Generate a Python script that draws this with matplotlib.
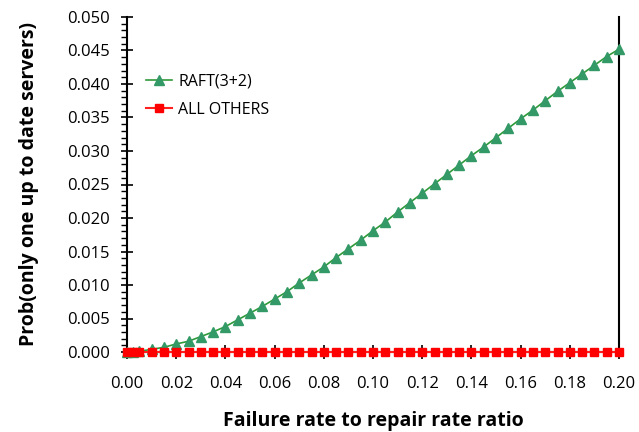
import matplotlib
matplotlib.use("Agg")
import matplotlib.pyplot as plt
from matplotlib.ticker import MultipleLocator, FormatStrFormatter

# Data
x_ratio = [0.0, 0.0025, 0.005, 0.01, 0.015, 0.02, 0.025, 0.03, 0.035, 0.04, 0.045,
           0.05, 0.055, 0.06, 0.065, 0.07, 0.075, 0.08, 0.085, 0.09, 0.095,
           0.10, 0.105, 0.11, 0.115, 0.12, 0.125, 0.13, 0.135, 0.14, 0.145,
           0.15, 0.155, 0.16, 0.165, 0.17, 0.175, 0.18, 0.185, 0.19, 0.195, 0.20]
raft_3_2 = [0.0, 0.00002, 0.0001, 0.0004, 0.0007, 0.0012, 0.0016, 0.0023, 0.0030, 0.0038, 0.0048,
            0.0058, 0.0068, 0.0079, 0.0090, 0.0103, 0.0115, 0.0127, 0.0141, 0.0154, 0.0167,
            0.0181, 0.0194, 0.0209, 0.0223, 0.0237, 0.0251, 0.0265, 0.0279, 0.0293, 0.0306,
            0.0320, 0.0334, 0.0348, 0.0361, 0.0375, 0.0389, 0.0402, 0.0415, 0.0428, 0.0441, 0.0452]
all_others = [0.0] * len(x_ratio)

series_labels = ["RAFT(3+2)", "ALL OTHERS"]
x_label = "Failure rate to repair rate ratio"
y_label = "Prob(only one up to date servers)"

plt.rcParams['font.family'] = ['Open Sans', 'DejaVu Sans']

fig = plt.figure(figsize=(6.39, 4.32), dpi=100)
ax = fig.add_axes([127/639, 1-352/432, (619-127)/639, (352-17)/432])

ax.plot(x_ratio, raft_3_2, color="#2e9a3a", lw=1.2, marker="^", markersize=7.5,
        markerfacecolor="#339966", markeredgecolor="#339966", label=series_labels[0],
        clip_on=False, zorder=3)
ax.plot(x_ratio, all_others, color="#ff2020", lw=1.5, marker="s", markersize=6,
        markerfacecolor="#ff0000", markeredgecolor="#ff0000", label=series_labels[1],
        clip_on=False, zorder=4)

ax.set_xlim(0, 0.20)
ax.set_ylim(0, 0.050)
ax.xaxis.set_major_locator(MultipleLocator(0.02))
ax.yaxis.set_major_locator(MultipleLocator(0.005))
ax.yaxis.set_minor_locator(MultipleLocator(0.001))
ax.xaxis.set_major_formatter(FormatStrFormatter('%.2f'))
ax.yaxis.set_major_formatter(FormatStrFormatter('%.3f'))

for s in ["left", "bottom", "right"]:
    ax.spines[s].set_color("black")
    ax.spines[s].set_linewidth(1.5)
ax.spines["top"].set_visible(False)

ax.tick_params(axis='x', which='major', direction='inout', length=10, width=1.2,
               labelsize=12, pad=12, colors='black')
ax.tick_params(axis='y', which='major', direction='inout', length=9, width=1.2,
               labelsize=12, pad=8, colors='black')
ax.tick_params(axis='y', which='minor', direction='out', length=4, width=1)
ax.tick_params(axis='x', which='minor', length=0)

ax.set_xlabel(x_label, fontsize=14, fontweight='bold', labelpad=14)
ax.set_ylabel(y_label, fontsize=14, fontweight='bold', labelpad=20)

leg = ax.legend(loc='upper left', bbox_to_anchor=(0.01, 0.874), frameon=False,
                fontsize=11.5, handlelength=1.6, handletextpad=0.4, labelspacing=0.75)

fig.savefig("out.png", dpi=100)
